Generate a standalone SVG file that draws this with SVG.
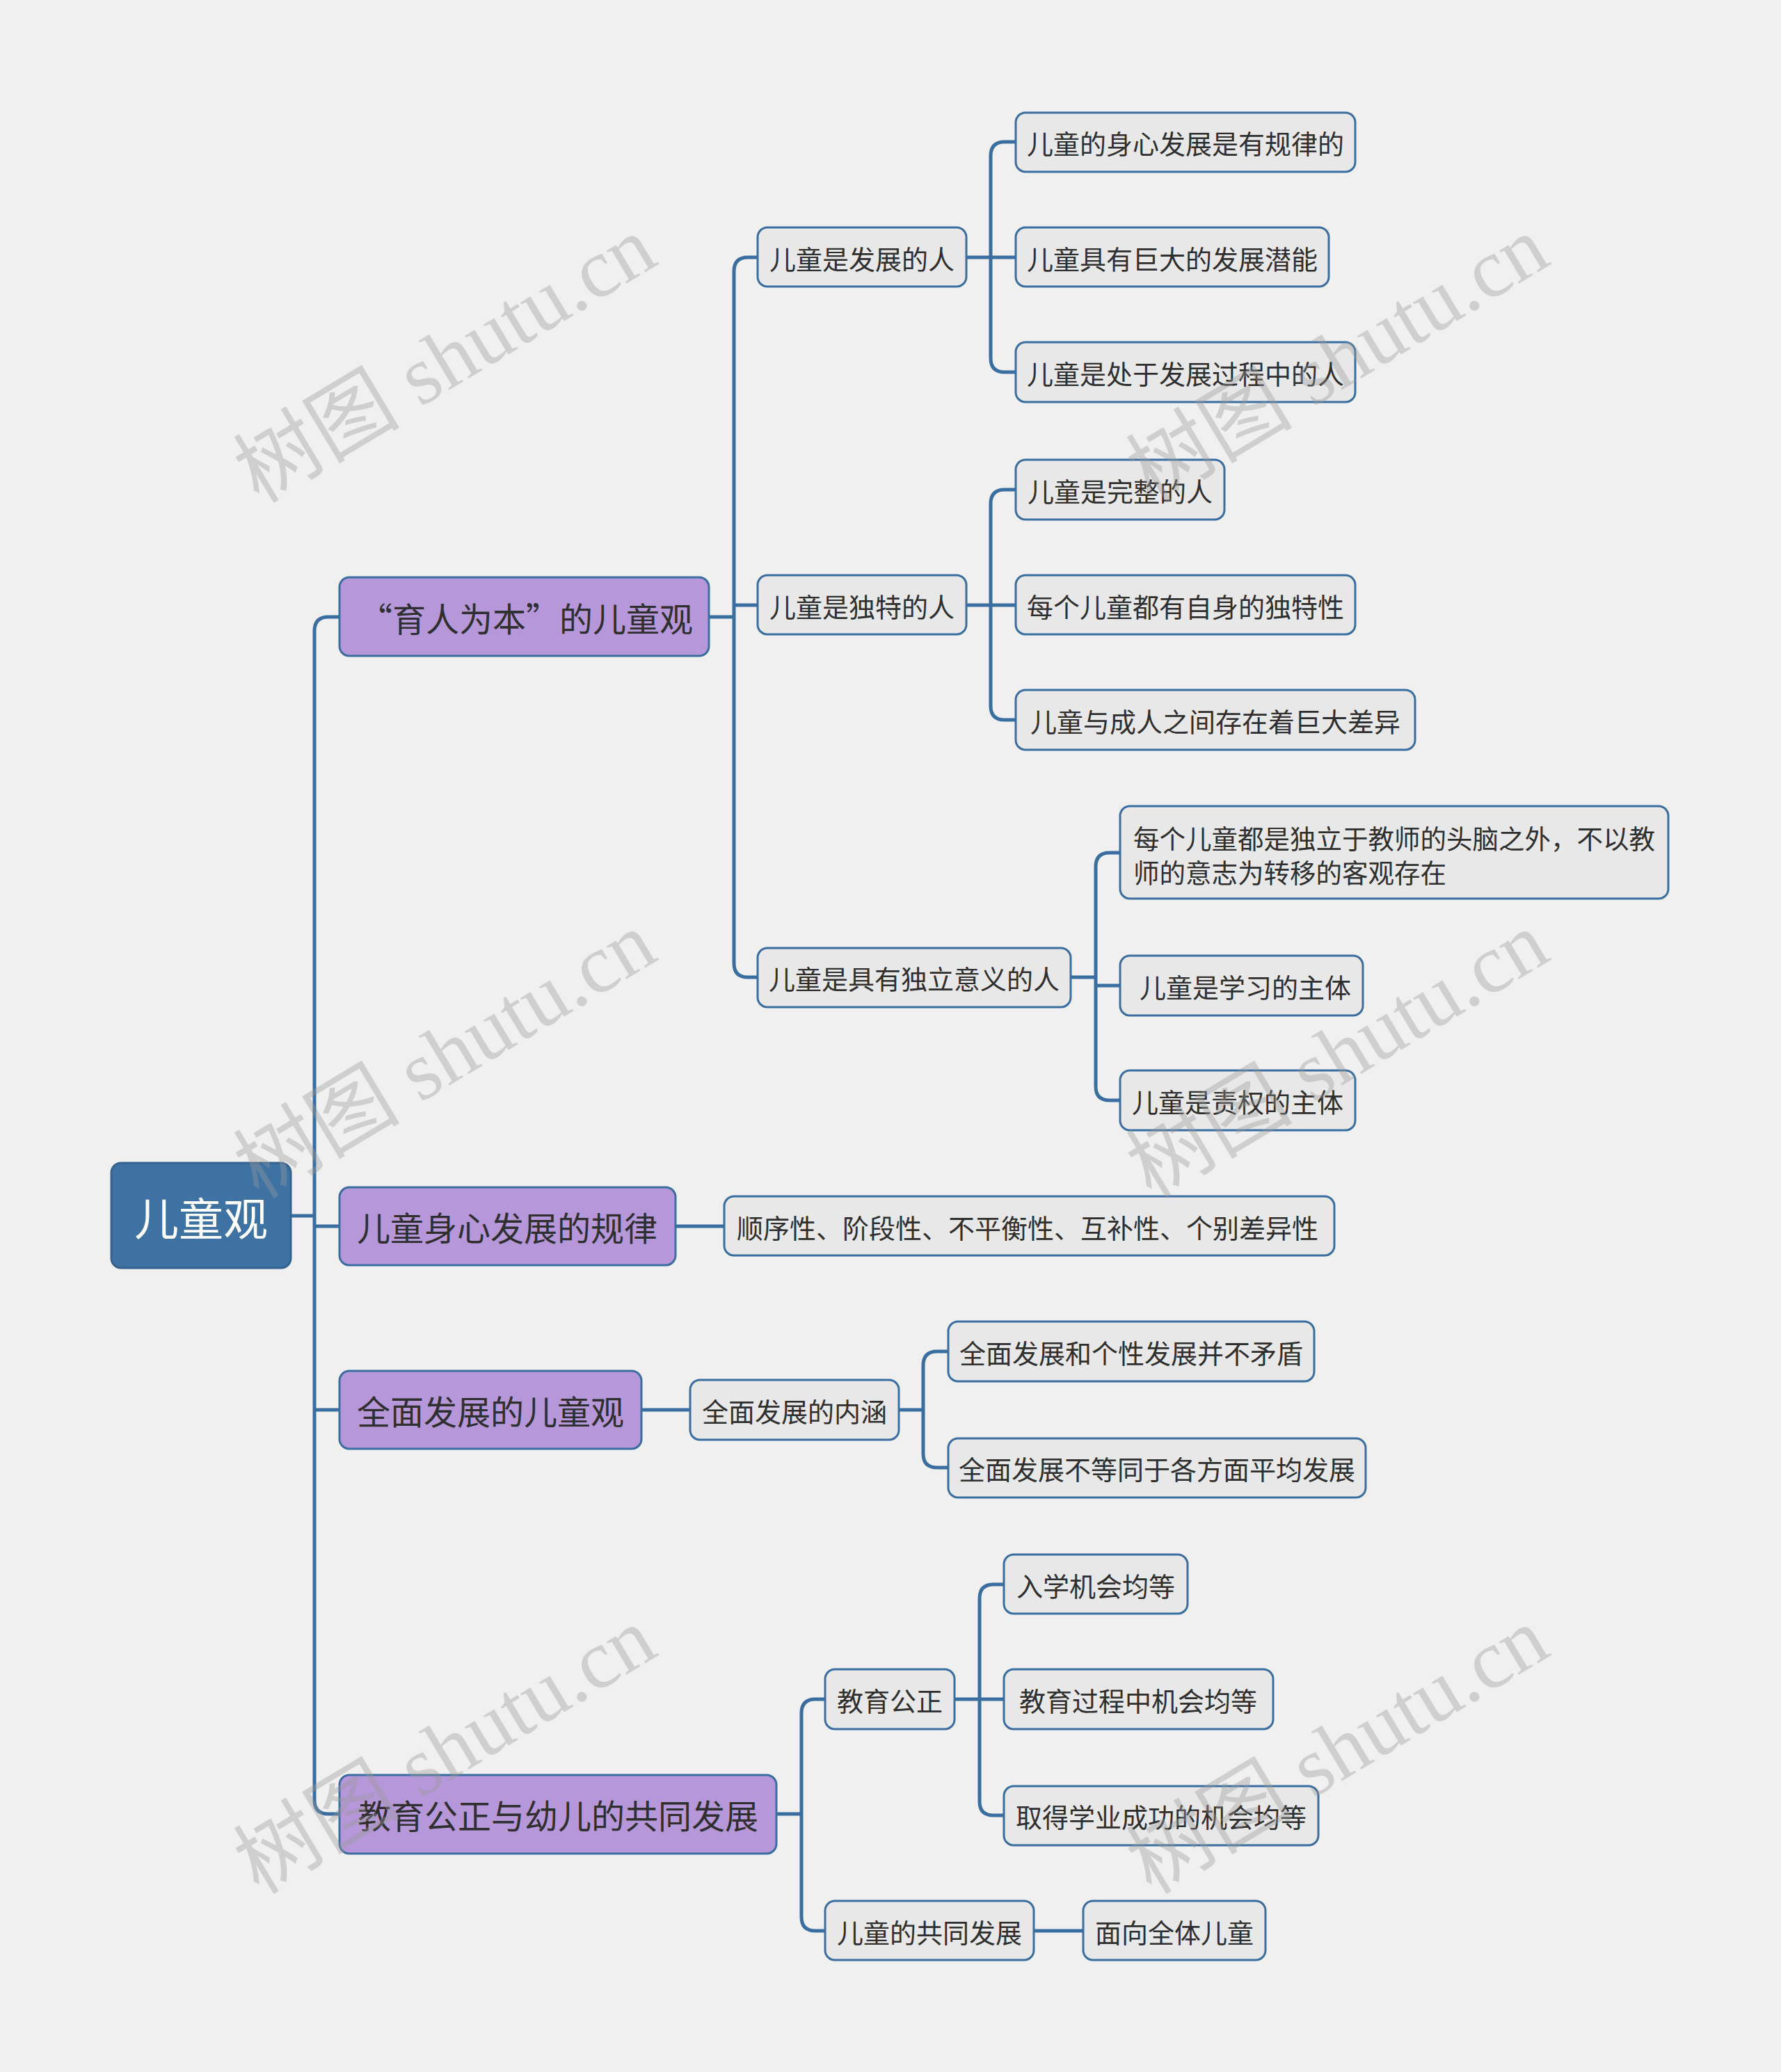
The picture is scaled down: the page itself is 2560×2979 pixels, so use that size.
<svg xmlns="http://www.w3.org/2000/svg" width="2560" height="2979" viewBox="0 0 2560 2979">
<style>
.bg{fill:#f0f0f0}
.root rect{fill:#3d72a3;stroke:#35638f;stroke-width:3}
.root text{fill:#ffffff;font-size:64px}
.l1 rect{fill:#b697da;stroke:#3a6ea0;stroke-width:3}
.l1 text{fill:#2f2f2f;font-size:48px}
.n rect{fill:#e8e8e8;stroke:#3a6ea0;stroke-width:3}
.n text{fill:#2f2f2f;font-size:38px}
text{font-family:"Noto Sans CJK SC","Noto Sans",sans-serif;dominant-baseline:central;text-anchor:middle}
.conn path{fill:none;stroke:#3a6ea0;stroke-width:5}
.wm{fill:#9a9a9a;opacity:0.38;font-family:"Liberation Serif","Noto Sans CJK SC",serif;font-size:120px;text-anchor:start;dominant-baseline:alphabetic}
</style>
<rect class="bg" x="0" y="0" width="2560" height="2979"/>
<g class="conn" id="connectors">
<path d="M418 1748 H452"/>
<path d="M488 887 H472 Q452 887 452 907 V2588 Q452 2608 472 2608 H488"/>
<path d="M452 1763 H488"/>
<path d="M452 2027 H488"/>
<path d="M1019 887 H1055"/>
<path d="M1089 370 H1075 Q1055 370 1055 390 V1385 Q1055 1405 1075 1405 H1089"/>
<path d="M1055 870 H1089"/>
<path d="M1389 370 H1424"/>
<path d="M1460 204 H1444 Q1424 204 1424 224 V515 Q1424 535 1444 535 H1460"/>
<path d="M1424 370 H1460"/>
<path d="M1389 870 H1424"/>
<path d="M1460 704 H1444 Q1424 704 1424 724 V1015 Q1424 1035 1444 1035 H1460"/>
<path d="M1424 870 H1460"/>
<path d="M1539 1405 H1575"/>
<path d="M1610 1226 H1595 Q1575 1226 1575 1246 V1562 Q1575 1582 1595 1582 H1610"/>
<path d="M1575 1417 H1610"/>
<path d="M971 1763 H1041"/>
<path d="M922 2027 H992"/>
<path d="M1292 2027 H1327"/>
<path d="M1363 1943 H1347 Q1327 1943 1327 1963 V2090 Q1327 2110 1347 2110 H1363"/>
<path d="M1116 2608 H1152"/>
<path d="M1186 2443 H1172 Q1152 2443 1152 2463 V2756 Q1152 2776 1172 2776 H1186"/>
<path d="M1372 2443 H1408"/>
<path d="M1443 2278 H1428 Q1408 2278 1408 2298 V2590 Q1408 2610 1428 2610 H1443"/>
<path d="M1408 2443 H1443"/>
<path d="M1486 2776 H1557"/>
</g>
<g id="root" class="root"><rect x="160" y="1672" width="258" height="151" rx="14"/><text x="289" y="1748">儿童观</text></g>
<g id="n1" class="l1"><rect x="488" y="830" width="531" height="113" rx="14"/><text x="756" y="887">“育人为本”的儿童观</text></g>
<g id="n2" class="l1"><rect x="488" y="1707" width="483" height="112" rx="14"/><text x="729" y="1763">儿童身心发展的规律</text></g>
<g id="n3" class="l1"><rect x="488" y="1971" width="434" height="112" rx="14"/><text x="705" y="2027">全面发展的儿童观</text></g>
<g id="n4" class="l1"><rect x="488" y="2552" width="628" height="113" rx="14"/><text x="802" y="2608">教育公正与幼儿的共同发展</text></g>
<g id="a" class="n"><rect x="1089" y="327" width="300" height="85" rx="14"/><text x="1239" y="370">儿童是发展的人</text></g>
<g id="b" class="n"><rect x="1089" y="827" width="300" height="85" rx="14"/><text x="1239" y="870">儿童是独特的人</text></g>
<g id="c" class="n"><rect x="1089" y="1363" width="450" height="85" rx="14"/><text x="1314" y="1405">儿童是具有独立意义的人</text></g>
<g id="d" class="n"><rect x="1041" y="1720" width="877" height="85" rx="14"/><text x="1477" y="1763">顺序性、阶段性、不平衡性、互补性、个别差异性</text></g>
<g id="e" class="n"><rect x="992" y="1984" width="300" height="86" rx="14"/><text x="1142" y="2027">全面发展的内涵</text></g>
<g id="f" class="n"><rect x="1186" y="2400" width="186" height="86" rx="14"/><text x="1279" y="2443">教育公正</text></g>
<g id="g" class="n"><rect x="1186" y="2733" width="300" height="85" rx="14"/><text x="1336" y="2776">儿童的共同发展</text></g>
<g id="a1" class="n"><rect x="1460" y="162" width="488" height="85" rx="14"/><text x="1704" y="204">儿童的身心发展是有规律的</text></g>
<g id="a2" class="n"><rect x="1460" y="327" width="450" height="85" rx="14"/><text x="1685" y="370">儿童具有巨大的发展潜能</text></g>
<g id="a3" class="n"><rect x="1460" y="492" width="488" height="86" rx="14"/><text x="1704" y="535">儿童是处于发展过程中的人</text></g>
<g id="b1" class="n"><rect x="1460" y="661" width="300" height="86" rx="14"/><text x="1610" y="704">儿童是完整的人</text></g>
<g id="b2" class="n"><rect x="1460" y="827" width="488" height="85" rx="14"/><text x="1704" y="870">每个儿童都有自身的独特性</text></g>
<g id="b3" class="n"><rect x="1460" y="992" width="574" height="86" rx="14"/><text x="1747" y="1035">儿童与成人之间存在着巨大差异</text></g>
<g id="c1" class="n"><rect x="1610" y="1159" width="788" height="133" rx="14"/><text x="1629" y="1203" style="text-anchor:start;font-size:37.5px">每个儿童都是独立于教师的头脑之外，不以教</text><text x="1629" y="1252" style="text-anchor:start;font-size:37.5px">师的意志为转移的客观存在</text></g>
<g id="c2" class="n"><rect x="1610" y="1374" width="349" height="86" rx="14"/><text x="1790" y="1417">儿童是学习的主体</text></g>
<g id="c3" class="n"><rect x="1610" y="1539" width="338" height="86" rx="14"/><text x="1779" y="1582">儿童是责权的主体</text></g>
<g id="e1" class="n"><rect x="1363" y="1900" width="526" height="86" rx="14"/><text x="1626" y="1943">全面发展和个性发展并不矛盾</text></g>
<g id="e2" class="n"><rect x="1363" y="2068" width="600" height="85" rx="14"/><text x="1663" y="2110">全面发展不等同于各方面平均发展</text></g>
<g id="f1" class="n"><rect x="1443" y="2235" width="264" height="85" rx="14"/><text x="1575" y="2278">入学机会均等</text></g>
<g id="f2" class="n"><rect x="1443" y="2400" width="387" height="86" rx="14"/><text x="1636" y="2443">教育过程中机会均等</text></g>
<g id="f3" class="n"><rect x="1443" y="2568" width="452" height="85" rx="14"/><text x="1669" y="2610">取得学业成功的机会均等</text></g>
<g id="g1" class="n"><rect x="1557" y="2733" width="262" height="85" rx="14"/><text x="1688" y="2776">面向全体儿童</text></g>
<g id="watermarks">
<text class="wm" transform="translate(372 725) rotate(-31)">树图 shutu.cn</text>
<text class="wm" transform="translate(1655 725) rotate(-31)">树图 shutu.cn</text>
<text class="wm" transform="translate(372 1725) rotate(-31)">树图 shutu.cn</text>
<text class="wm" transform="translate(1655 1725) rotate(-31)">树图 shutu.cn</text>
<text class="wm" transform="translate(372 2725) rotate(-31)">树图 shutu.cn</text>
<text class="wm" transform="translate(1655 2725) rotate(-31)">树图 shutu.cn</text>
</g>
</svg>
